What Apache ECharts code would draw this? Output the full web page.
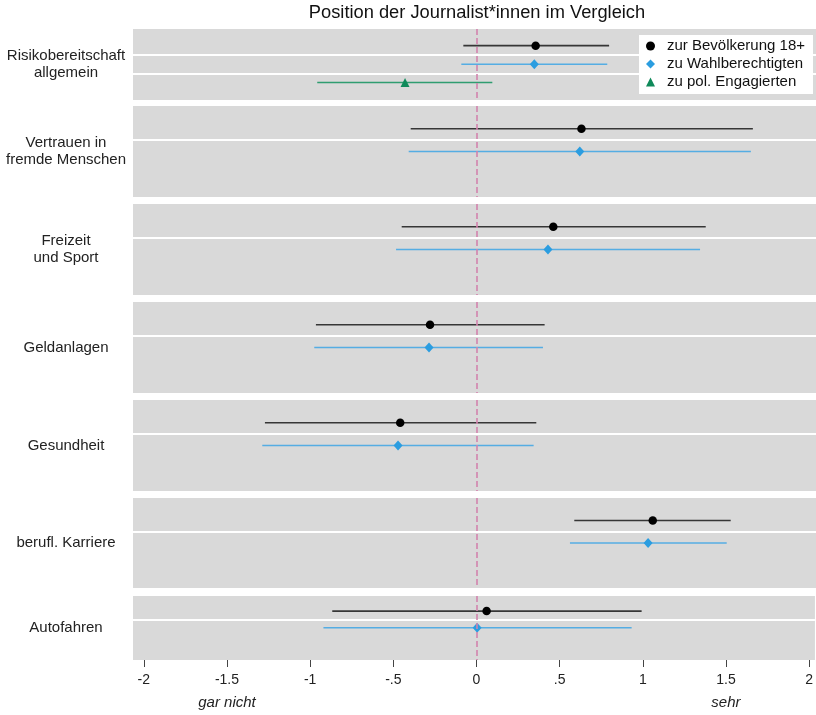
<!DOCTYPE html>
<html>
<head>
<meta charset="utf-8">
<script src="https://cdn.jsdelivr.net/npm/echarts@6/dist/echarts.min.js"></script>
<style>
    html, body { margin: 0; padding: 0; background: #fff; }
    #chart { width: 816px; height: 715px; }
</style>
</head>
<body>
<div id="chart"></div>
<script>
// categories
const groups = [
    'Risikobereitschaft\nallgemein',
    'Vertrauen in\nfremde Menschen',
    'Freizeit\nund Sport',
    'Geldanlagen',
    'Gesundheit',
    'berufl. Karriere',
    'Autofahren'
];

// zur Bevölkerung 18+
const bevEst = [0.352, 0.627, 0.458, -0.282, -0.461, 1.055, 0.061];
const bevLo = [-0.082, -0.398, -0.452, -0.967, -1.273, 0.584, -0.867];
const bevHi = [0.793, 1.656, 1.373, 0.406, 0.356, 1.523, 0.993];

// zu Wahlberechtigten
const wahlEst = [0.344, 0.617, 0.426, -0.288, -0.474, 1.027, 0.004];
const wahlLo = [-0.094, -0.410, -0.486, -0.977, -1.289, 0.558, -0.920];
const wahlHi = [0.782, 1.644, 1.339, 0.396, 0.340, 1.499, 0.933];

// zu pol. Engagierten
const polEst = [-0.432, null, null, null, null, null, null];
const polLo = [-0.959, null, null, null, null, null, null];
const polHi = [0.092, null, null, null, null, null, null];

// x axis ticks
const xTicks = [-2, -1.5, -1, -0.5, 0, 0.5, 1, 1.5, 2];
const xTickLabels = ['-2', '-1.5', '-1', '-.5', '0', '.5', '1', '1.5', '2'];
const scaleAnchors = [-1.5, 1.5];
const scaleAnchorLabels = ['gar nicht', 'sehr'];

// layout of the grey bands (one grid per group)
const bandLayout = [
    {top: 29, height: 71, min: -0.9, max: 2.94},
    {top: 106, height: 91, min: -1, max: 3},
    {top: 204, height: 91, min: -1, max: 3},
    {top: 302, height: 91, min: -1, max: 3},
    {top: 400, height: 91, min: -1, max: 3},
    {top: 498, height: 90, min: -1, max: 3},
    {top: 596, height: 64, min: -0.9, max: 2.93}
];
const xMin = -2.065, xMax = 2.035;
const font = 'Liberation Sans, Arial, sans-serif';

const kinds = [
    {name: 'zur Bevölkerung 18+', est: bevEst, lo: bevLo, hi: bevHi,
        symbol: 'circle', size: 8.5, color: '#000000', line: '#363636', width: 1.7},
    {name: 'zu Wahlberechtigten', est: wahlEst, lo: wahlLo, hi: wahlHi,
        symbol: 'diamond', size: [9, 10], color: '#2b9de0', line: '#55ade3', width: 1.5},
    {name: 'zu pol. Engagierten', est: polEst, lo: polLo, hi: polHi,
        symbol: 'triangle', size: 9, color: '#0f8a5a', line: '#2f9d70', width: 1.5}
];

const last = groups.length - 1;

let grid = bandLayout.map(b => ({
    left: 133, right: 0, top: b.top, height: b.height,
    show: true, backgroundColor: '#d9d9d9', borderWidth: 0
}));

let xAxis = groups.map((g, i) => ({
    type: 'value',
    gridIndex: i,
    position: 'bottom',
    min: xMin,
    max: xMax,
    show: i === last,
    axisLine: {show: false, onZero: false},
    splitLine: {show: false},
    axisTick: {
        show: true,
        inside: false,
        customValues: xTicks,
        length: 7,
        lineStyle: {color: '#444', width: 1}
    },
    axisLabel: {
        customValues: xTicks,
        margin: 13,
        fontSize: 14,
        fontFamily: font,
        color: '#222',
        formatter: function (v) {
            return xTickLabels[xTicks.indexOf(v)];
        }
    }
}));
xAxis.push({
    type: 'value',
    gridIndex: last,
    position: 'bottom',
    min: xMin,
    max: xMax,
    axisLine: {show: false, onZero: false},
    axisTick: {show: false},
    splitLine: {show: false},
    axisLabel: {
        customValues: scaleAnchors,
        margin: 35,
        fontSize: 15,
        fontStyle: 'italic',
        fontFamily: font,
        color: '#222',
        formatter: function (v) {
            return scaleAnchorLabels[scaleAnchors.indexOf(v)];
        }
    }
});

let yAxis = bandLayout.map((b, i) => ({
    type: 'value',
    gridIndex: i,
    inverse: true,
    min: b.min,
    max: b.max,
    axisLine: {show: false, onZero: false},
    axisTick: {show: false},
    splitLine: {show: false},
    axisLabel: {
        customValues: [1],
        align: 'center',
        margin: 67,
        fontSize: 15,
        lineHeight: 16.5,
        fontFamily: font,
        color: '#222',
        formatter: function () {
            return groups[i];
        }
    }
}));

let series = [];
groups.forEach((label, g) => {
    let rows = kinds.filter(k => k.est[g] != null);
    let seps = [];
    for (let r = 0; r < rows.length - 1; r++) seps.push(r + 0.5);
    kinds.forEach((k, r) => {
        if (k.est[g] == null) return;
        let ci = {
            type: 'custom',
            name: k.name,
            xAxisIndex: g,
            yAxisIndex: g,
            silent: true,
            z: 3,
            encode: {x: [0, 1], y: 2},
            data: [[k.lo[g], k.hi[g], r]],
            renderItem: function (params, api) {
                let p1 = api.coord([api.value(0), api.value(2)]);
                let p2 = api.coord([api.value(1), api.value(2)]);
                return {
                    type: 'line',
                    shape: {x1: p1[0], y1: p1[1], x2: p2[0], y2: p2[1]},
                    style: {stroke: k.line, lineWidth: k.width}
                };
            }
        };
        if (r === 0) {
            ci.markLine = {
                silent: true,
                symbol: ['none', 'none'],
                label: {show: false},
                emphasis: {disabled: true},
                data: seps.map(v => ({yAxis: v, lineStyle: {color: '#ffffff', width: 2, type: 'solid'}}))
                    .concat([{xAxis: 0, lineStyle: {color: '#d283ad', width: 1.6, type: [6, 3]}}])
            };
        }
        series.push(ci);
        series.push({
            type: 'scatter',
            name: k.name,
            xAxisIndex: g,
            yAxisIndex: g,
            silent: true,
            z: 4,
            symbol: k.symbol,
            symbolSize: k.size,
            itemStyle: {color: k.color, opacity: 1},
            data: [[k.est[g], r]]
        });
    });
});

let chart = echarts.init(document.getElementById('chart'));
let option = {
    animation: false,
    backgroundColor: '#ffffff',
    textStyle: {fontFamily: font},
    title: {
        text: 'Position der Journalist*innen im Vergleich',
        left: 477,
        top: 4,
        padding: 0,
        textAlign: 'center',
        textStyle: {fontSize: 18.3, fontWeight: 'normal', color: '#111', fontFamily: font}
    },
    legend: {
        left: 639,
        top: 35,
        orient: 'vertical',
        selectedMode: false,
        backgroundColor: '#ffffff',
        padding: [2, 8, 3, 7],
        itemGap: 0,
        itemWidth: 9,
        itemHeight: 9,
        textStyle: {fontSize: 15, lineHeight: 18, color: '#111', fontFamily: font, padding: [0, 0, 0, 7]},
        data: kinds.map(k => ({name: k.name, icon: k.symbol, itemStyle: {color: k.color}}))
    },
    grid: grid,
    xAxis: xAxis,
    yAxis: yAxis,
    series: series
};
option && chart.setOption(option);
</script>
</body>
</html>
